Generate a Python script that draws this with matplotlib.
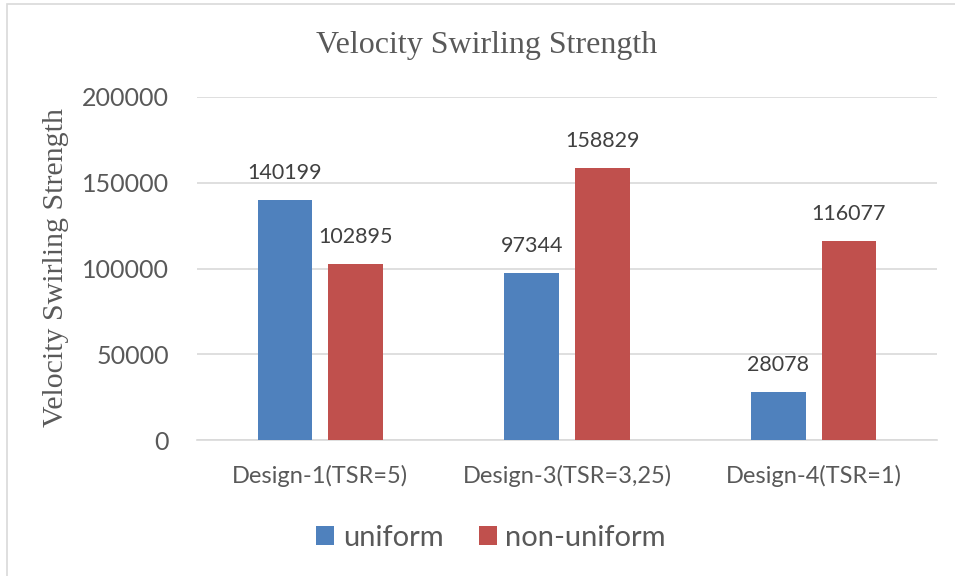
import matplotlib
matplotlib.use("Agg")
import matplotlib.pyplot as plt
from matplotlib.patches import Rectangle
import numpy as np

categories = ["Design-1(TSR=5)", "Design-3(TSR=3,25)", "Design-4(TSR=1)"]
uniform = [140199, 97344, 28078]
non_uniform = [102895, 158829, 116077]
series_names = ["uniform", "non-uniform"]
yticks = [0, 50000, 100000, 150000, 200000]

BLUE = "#4F81BD"
RED = "#C0504D"
GRAY = "#595959"
GRID = "#D9D9D9"
SANS = ["Lato", "DejaVu Sans"]
SERIF = ["Liberation Serif", "DejaVu Serif"]

W, H = 955, 576
fig = plt.figure(figsize=(W / 100, H / 100), dpi=100)
fig.patch.set_facecolor("white")

# chart-area frame (left and top edges visible)
fig.patches.append(Rectangle((7 / W, -0.05), 1.2, 1 - 4 / H + 0.05,
                             transform=fig.transFigure, fill=False,
                             edgecolor="#D9D9D9", linewidth=1.2))

ax = fig.add_axes([197 / W, 1 - 440 / H, (937 - 197) / W, (440 - 97) / H])
x = np.arange(len(categories))
bw = 0.222
off = 0.143
b1 = ax.bar(x - off, uniform, bw, color=BLUE, label=series_names[0], zorder=3)
b2 = ax.bar(x + off, non_uniform, bw, color=RED, label=series_names[1], zorder=3)

for bars, vals in ((b1, uniform), (b2, non_uniform)):
    for rect, v in zip(bars, vals):
        ax.annotate(f"{v}", (rect.get_x() + rect.get_width() / 2, v),
                    xytext=(0, 12), textcoords="offset points",
                    ha="center", va="bottom", fontsize=15.5,
                    family=SANS, color="#404040")

ax.set_xlim(-0.5, len(categories) - 0.5)
ax.set_ylim(0, 200000)
ax.set_yticks(yticks)
ax.set_yticklabels([str(t) for t in yticks], family=SANS, fontsize=18, color=GRAY)
ax.set_xticks(x)
ax.set_xticklabels(categories, family=SANS, fontsize=17, color=GRAY)
ax.tick_params(axis="both", length=0)
ax.tick_params(axis="y", pad=20)
ax.tick_params(axis="x", pad=18)
ax.grid(axis="y", color=GRID, linewidth=1.2, zorder=0)
for s in ("top", "right", "left"):
    ax.spines[s].set_visible(False)
ax.spines["bottom"].set_color(GRID)
ax.spines["bottom"].set_linewidth(1.2)

fig.text(487 / W, 1 - 46 / H, "Velocity Swirling Strength", ha="center", va="center",
         family=SERIF, fontsize=23, color=GRAY)
fig.text(56 / W, 1 - 268 / H, "Velocity Swirling Strength", ha="center", va="center",
         rotation=90, family=SERIF, fontsize=21.5, color=GRAY)

fig.legend(handles=[b1, b2], labels=series_names, loc="center",
           bbox_to_anchor=(491 / W, 1 - 538 / H), ncol=2, frameon=False,
           prop={"family": SANS, "size": 21}, labelcolor=GRAY,
           handlelength=0.62, handleheight=0.62, handletextpad=0.3,
           columnspacing=1.2)

fig.savefig("out.png", dpi=100, facecolor="white")
